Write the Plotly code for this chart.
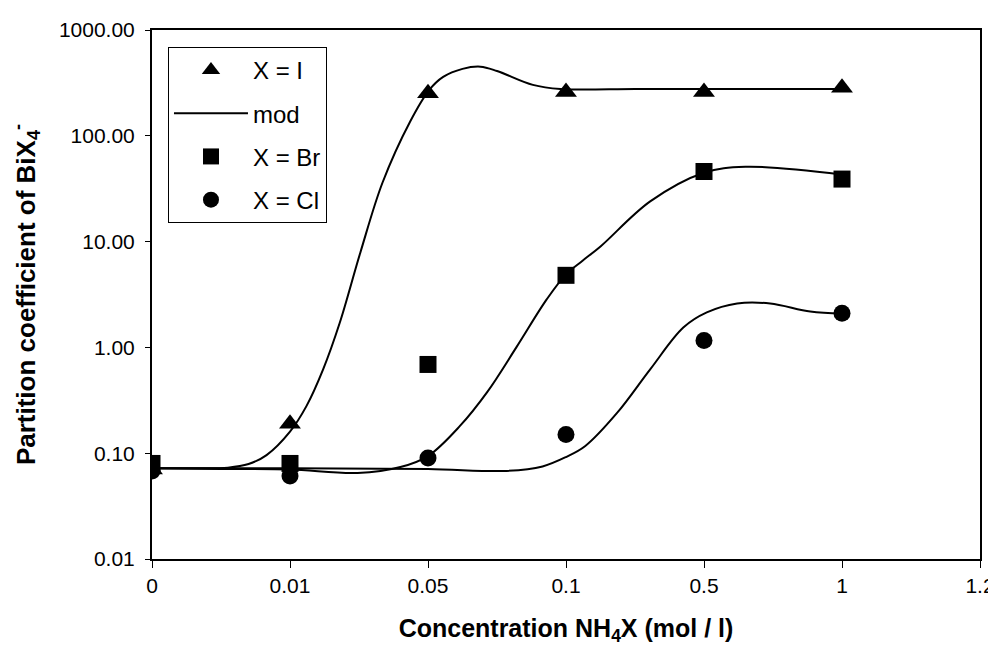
import plotly.graph_objects as go

# ---- data ----
conc_labels = ["0", "0.01", "0.05", "0.1", "0.5", "1"]
axis_tick_labels = ["0", "0.01", "0.05", "0.1", "0.5", "1", "1.2"]
y_tick_vals = [0.01, 0.1, 1, 10, 100, 1000]
y_tick_text = ["0.01", "0.10", "1.00", "10.00", "100.00", "1000.00"]

I_vals = [0.07, 0.19, 252, 260, 260, 284]
Br_vals = [0.08, 0.08, 0.69, 4.8, 46, 39]
Cl_vals = [0.068, 0.061, 0.09, 0.15, 1.16, 2.1]

# model curves: positions along the category axis and values
mod_I_pos = [0, 0.3, 0.55, 0.7, 0.83, 1.0, 1.12, 1.24, 1.36, 1.51, 1.67, 1.87, 2.01, 2.11, 2.25, 2.38, 2.5, 2.76, 2.96, 3.5, 4, 4.5, 5]
mod_I_val = [0.072, 0.072, 0.073, 0.079, 0.096, 0.16, 0.28, 0.62, 1.7, 7.9, 36, 136, 272, 360, 429, 450, 410, 303, 277, 277, 277, 277, 277]

mod_Br_pos = [0, 0.5, 1.0, 1.49, 1.8, 2.0, 2.23, 2.43, 2.64, 2.86, 3.0, 3.12, 3.25, 3.61, 4.0, 4.3, 5.0]
mod_Br_val = [0.072, 0.071, 0.07, 0.065, 0.074, 0.094, 0.18, 0.38, 1.0, 2.84, 4.9, 6.6, 9.0, 24, 44.8, 51, 43]

mod_Cl_pos = [0, 1, 2, 2.57, 2.83, 3.0, 3.14, 3.37, 3.61, 3.85, 4.02, 4.24, 4.48, 4.77, 5.0]
mod_Cl_val = [0.072, 0.072, 0.071, 0.068, 0.075, 0.092, 0.117, 0.24, 0.62, 1.54, 2.14, 2.6, 2.6, 2.18, 2.09]

FONT = "Liberation Sans, Arial, sans-serif"
cat_x = list(range(len(conc_labels)))

fig = go.Figure()

line_style = dict(color="black", width=2, shape="spline", smoothing=1.0)

fig.add_trace(go.Scatter(x=cat_x, y=I_vals, mode="markers", name="X = I",
                         marker=dict(symbol="triangle-up", size=19, color="black"),
                         legendgroup="a"))
fig.add_trace(go.Scatter(x=mod_I_pos, y=mod_I_val, mode="lines", name="mod",
                         line=line_style, legendgroup="b"))
fig.add_trace(go.Scatter(x=cat_x, y=Br_vals, mode="markers", name="X = Br",
                         marker=dict(symbol="square", size=17, color="black"),
                         legendgroup="c"))
fig.add_trace(go.Scatter(x=cat_x, y=Cl_vals, mode="markers", name="X = Cl",
                         marker=dict(symbol="circle", size=17, color="black"),
                         legendgroup="d"))
fig.add_trace(go.Scatter(x=mod_Br_pos, y=mod_Br_val, mode="lines", name="mod",
                         line=line_style, showlegend=False, legendgroup="b"))
fig.add_trace(go.Scatter(x=mod_Cl_pos, y=mod_Cl_val, mode="lines", name="mod",
                         line=line_style, showlegend=False, legendgroup="b"))

fig.update_layout(
    width=988, height=638,
    margin=dict(l=144, r=16, t=22, b=87, autoexpand=False),
    paper_bgcolor="white", plot_bgcolor="white",
    font=dict(family=FONT, size=21, color="black"),
    showlegend=True,
    legend=dict(
        x=0.0193, y=0.968, xanchor="left", yanchor="top",
        bordercolor="black", borderwidth=1, bgcolor="white",
        font=dict(family=FONT, size=24, color="black"),
        itemwidth=74, tracegroupgap=9, traceorder="grouped",
    ),
    xaxis=dict(
        range=[0, 6], tickmode="array", tickvals=list(range(len(axis_tick_labels))),
        ticktext=axis_tick_labels, showgrid=False, zeroline=False, automargin=False,
        showline=True, linecolor="black", linewidth=2, mirror=True,
        ticks="outside", ticklen=7, tickcolor="black", tickwidth=1,
        tickfont=dict(family=FONT, size=21),
        title=dict(text="<b>Concentration NH<sub>4</sub>X (mol / l)</b>",
                   font=dict(family=FONT, size=25), standoff=27),
    ),
    yaxis=dict(
        type="log", range=[-2, 3], tickmode="array", tickvals=y_tick_vals,
        ticktext=y_tick_text, showgrid=False, zeroline=False, automargin=False,
        showline=True, linecolor="black", linewidth=2, mirror=True,
        ticks="outside", ticklen=5, tickcolor="black", tickwidth=1,
        tickfont=dict(family=FONT, size=21), ticklabelstandoff=6,
        title=dict(text="<b>Partition coefficient of BiX<sub>4</sub><sup>-</sup></b>",
                   font=dict(family=FONT, size=26), standoff=19),
    ),
)

fig.write_html("out.html")
